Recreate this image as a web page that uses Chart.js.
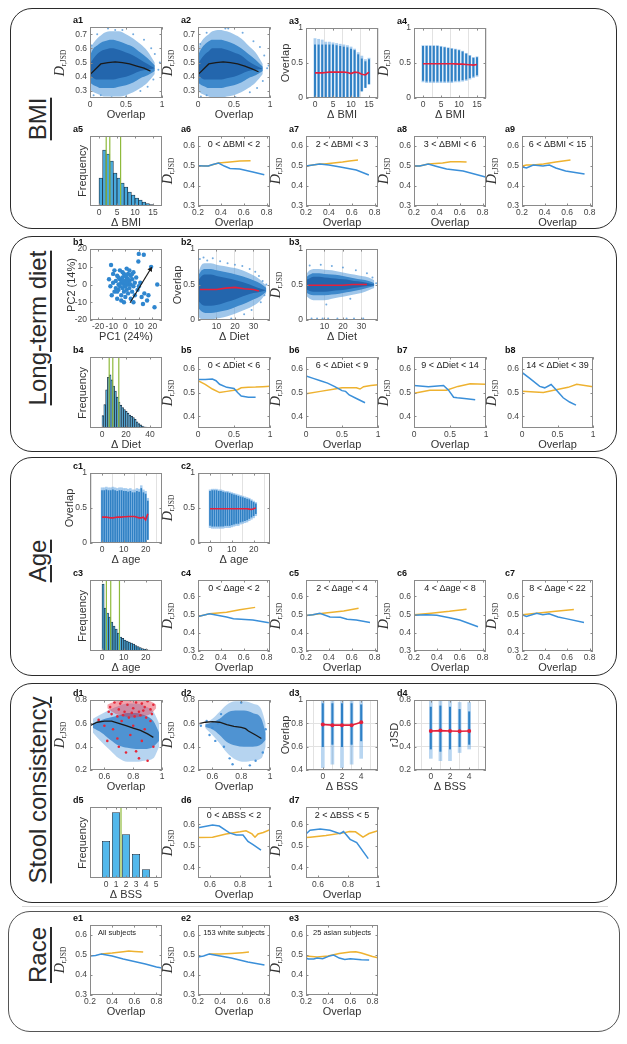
<!DOCTYPE html>
<html><head><meta charset="utf-8">
<script src="https://cdn.jsdelivr.net/npm/chart.js@4.4.1/dist/chart.umd.min.js"></script>
<style>
body{margin:0;background:#fff;width:627px;height:1044px;overflow:hidden;position:relative;font-family:"Liberation Sans",Arial,sans-serif;}
.sec{position:absolute;border:1.8px solid #2b2b2b;border-radius:22px;box-sizing:border-box;}
.stitle{position:absolute;transform:translate(-50%,-50%) rotate(-90deg);font-size:24px;color:#2a2a2a;white-space:nowrap;text-decoration:underline;text-decoration-thickness:1.5px;text-underline-offset:4px;}
.plab{position:absolute;font:bold 9px "Liberation Sans",Arial,sans-serif;color:#111;line-height:10px;}
.ytitle{position:absolute;transform:translate(-50%,-50%) rotate(-90deg);white-space:nowrap;color:#333;font-size:11px;line-height:12px;}
.dj{font-family:"Liberation Serif","DejaVu Serif",serif;color:#333;}
.dj i{font-size:14px;}
.dj sub{font-size:7.5px;vertical-align:-2px;}
canvas{position:absolute;}
</style></head><body>
<script>
// ================= DATA =================
// --- BMI: a1 / a2 clouds (Overlap vs D_rJSD), banded density outline
const a1X      = [0,0.05,0.1,0.15,0.2,0.3,0.4,0.5,0.6,0.7,0.8,0.9];
const a1OutLo  = [0.31,0.29,0.28,0.27,0.26,0.26,0.26,0.27,0.29,0.32,0.36,0.42];
const a1OutHi  = [0.6,0.64,0.67,0.69,0.71,0.72,0.72,0.7,0.67,0.63,0.58,0.5];
const a1MidLo  = [0.36,0.34,0.33,0.32,0.32,0.32,0.33,0.34,0.36,0.39,0.41,0.44];
const a1MidHi  = [0.55,0.6,0.62,0.64,0.65,0.66,0.65,0.63,0.61,0.57,0.53,0.48];
const a1CoreLo = [0.41,0.39,0.38,0.38,0.38,0.38,0.39,0.4,0.42,0.44,0.45,0.46];
const a1CoreHi = [0.49,0.53,0.56,0.58,0.59,0.6,0.59,0.57,0.55,0.52,0.49,0.46];
const a1SpkX   = [0.05,0.1,0.25,0.45,0.6,0.75,0.85,0.9,0.95,0.88,0.7,0.5,0.3,0.15,0.02,0.97,0.8,0.35];
const a1SpkY   = [0.27,0.7,0.74,0.73,0.7,0.66,0.6,0.56,0.45,0.38,0.3,0.26,0.255,0.27,0.62,0.5,0.33,0.73];
const a1LineX  = [0.01,0.15,0.25,0.35,0.45,0.55,0.65,0.75,0.84];
const a1LineY  = [0.42,0.49,0.5,0.505,0.5,0.49,0.475,0.46,0.44];
const a2OutLo  = [0.3,0.28,0.27,0.26,0.25,0.25,0.26,0.27,0.29,0.32,0.36,0.42];
const a2OutHi  = [0.6,0.65,0.68,0.7,0.72,0.73,0.72,0.7,0.67,0.62,0.57,0.49];
const a2MidLo  = [0.36,0.34,0.33,0.32,0.32,0.32,0.33,0.34,0.36,0.39,0.41,0.44];
const a2MidHi  = [0.55,0.6,0.63,0.65,0.66,0.66,0.65,0.63,0.6,0.56,0.52,0.47];
const a2CoreLo = [0.41,0.39,0.38,0.38,0.38,0.38,0.39,0.4,0.42,0.44,0.45,0.455];
const a2CoreHi = [0.49,0.53,0.56,0.58,0.6,0.6,0.59,0.57,0.55,0.51,0.48,0.455];
const a2SpkX   = [0.04,0.12,0.22,0.42,0.62,0.77,0.86,0.92,0.96,0.9,0.72,0.52,0.32,0.12,0.03,0.98,0.82,0.38];
const a2SpkY   = [0.26,0.71,0.75,0.74,0.71,0.65,0.61,0.55,0.46,0.37,0.29,0.255,0.25,0.27,0.63,0.48,0.32,0.74];
const a2LineY  = [0.42,0.49,0.5,0.505,0.5,0.49,0.475,0.455,0.435];
// --- a3 / a4 strips per integer ΔBMI
const bmiX   = [0,1,2,3,4,5,6,7,8,9,10,11,12,13,14,15];
const a3Lo   = [0,0,0,0,0,0,0,0,0,0,0,0,0.02,0.1,0.15,0.2];
const a3Hi   = [0.76,0.76,0.76,0.76,0.76,0.76,0.75,0.74,0.73,0.72,0.7,0.68,0.62,0.56,0.52,0.55];
const a3OutHi= [0.85,0.84,0.83,0.8,0.8,0.79,0.78,0.77,0.76,0.75,0.73,0.7,0.65,0.6,0.55,0.57];
const a3Mean = [0.36,0.36,0.36,0.365,0.37,0.37,0.37,0.37,0.37,0.365,0.35,0.37,0.365,0.34,0.33,0.37];
const a4Lo   = [0.25,0.24,0.24,0.24,0.24,0.24,0.24,0.24,0.24,0.25,0.25,0.26,0.27,0.29,0.31,0.33];
const a4Hi   = [0.74,0.74,0.74,0.74,0.74,0.73,0.72,0.71,0.7,0.69,0.68,0.66,0.63,0.6,0.57,0.58];
const a4Mean = [0.49,0.49,0.49,0.49,0.49,0.49,0.49,0.49,0.49,0.488,0.485,0.485,0.48,0.475,0.47,0.48];
// --- a5 histogram ΔBMI
const a5Bins  = [0.5,1.5,2.5,3.5,4.5,5.5,6.5,7.5,8.5,9.5,10.5,11.5,12.5,13.5,14.5];
const a5Freq  = [28,56,52,45,33,28,23,19,14,11,8,6,4,2.5,1.5];
const a5Cuts  = [2,3,6];
// --- a6..a9 lines
const a6BX=[0.2,0.25,0.29,0.33,0.38,0.43,0.48,0.565,0.68,0.78], a6BY=[0.502,0.5,0.5,0.508,0.515,0.5,0.488,0.485,0.47,0.457];
const a6OX=[0.2,0.29,0.38,0.48,0.565,0.66], a6OY=[0.502,0.5,0.515,0.52,0.525,0.527];
const a7BX=[0.2,0.26,0.32,0.4,0.5,0.64,0.75], a7BY=[0.5,0.505,0.51,0.505,0.495,0.48,0.455];
const a7OX=[0.2,0.26,0.32,0.36,0.52,0.58,0.655], a7OY=[0.5,0.505,0.51,0.51,0.52,0.525,0.53];
const a8BX=[0.2,0.25,0.325,0.4,0.485,0.63,0.826], a8BY=[0.5,0.5,0.51,0.498,0.485,0.475,0.445];
const a8OX=[0.2,0.25,0.325,0.45,0.52,0.6,0.66], a8OY=[0.5,0.5,0.51,0.515,0.522,0.522,0.52];
const a9BX=[0.2,0.24,0.3,0.386,0.443,0.5,0.587,0.755], a9BY=[0.495,0.49,0.505,0.5,0.505,0.49,0.475,0.46];
const a9OX=[0.2,0.24,0.3,0.39,0.5,0.63], a9OY=[0.5,0.505,0.505,0.51,0.52,0.53];
// --- b1 PCA scatter
const b1PC1 = [-10.5,-9,-12,-11,-10,-8,-7,-6,-5,-5,-4,-4,-3,-3,-2,-2,-1,-1,-1,0,0,0,1,1,1,2,2,2,3,3,4,4,4,5,5,6,6,7,7,8,9,10,-9,-7,-6,-4,-2,0,2,3,-3,-8,11,12,14,9.9,13.6,9.6,19,23.5,21.5,17,16,13,-1,6,-6,-2,1,-5,5];
const b1PC2 = [11,6,3,-1,-6,-4,2,5,0,-3,8,3,-6,1,4,-2,6,0,-4,2,-1,-7,4,9,-3,0,6,-5,2,-2,5,0,-8,3,-4,7,-1,1,-6,4,-3,-1,1,-2,-8,-1,7,5,3,8,-9,8,1,-7,-5,17.3,16.8,13,10,0,-12.8,-6,-9,-11,-10,-10,-4,2,1,4,6];
const b1Arrow = [[3.5,-10.3],[18.5,8.6]];
// --- b2 / b3 clouds vs ΔDiet
const dietX    = [0.5,2,4,7,10,14,18,22,26,30,34,37];
const b2OutLo  = [0.04,0.01,0.01,0.01,0.02,0.04,0.07,0.11,0.15,0.2,0.28,0.38];
const b2OutHi  = [0.7,0.78,0.8,0.8,0.78,0.76,0.74,0.72,0.68,0.63,0.56,0.48];
const b2MidLo  = [0.16,0.12,0.1,0.1,0.11,0.13,0.16,0.2,0.24,0.29,0.34,0.4];
const b2MidHi  = [0.64,0.7,0.72,0.72,0.7,0.68,0.66,0.63,0.6,0.56,0.51,0.45];
const b2CoreLo = [0.26,0.22,0.2,0.2,0.21,0.24,0.27,0.31,0.35,0.38,0.4,0.42];
const b2CoreHi = [0.57,0.62,0.64,0.64,0.62,0.6,0.58,0.55,0.52,0.48,0.44,0.42];
const b3OutLo  = [0.33,0.3,0.28,0.28,0.28,0.3,0.32,0.34,0.36,0.38,0.42,0.45];
const b3OutHi  = [0.66,0.7,0.72,0.72,0.71,0.7,0.68,0.66,0.64,0.62,0.6,0.56];
const b3MidLo  = [0.38,0.36,0.35,0.35,0.35,0.36,0.37,0.39,0.41,0.43,0.46,0.48];
const b3MidHi  = [0.61,0.64,0.66,0.66,0.65,0.64,0.63,0.61,0.59,0.57,0.55,0.52];
const b3CoreLo = [0.43,0.41,0.4,0.4,0.4,0.41,0.42,0.43,0.45,0.47,0.48,0.49];
const b3CoreHi = [0.57,0.59,0.61,0.61,0.6,0.59,0.58,0.57,0.55,0.54,0.52,0.5];
const dietMeanX= [1,5,10,15,20,25,30,33];
const b2Mean   = [0.43,0.43,0.43,0.45,0.46,0.44,0.43,0.41];
const b3Mean   = [0.49,0.49,0.49,0.49,0.49,0.5,0.5,0.5];
const b2SpkX   = [1,3,5,8,12,16,20,24,28,31,33,35,37,36,34,29,25,18];
const b2SpkY   = [0.86,0.88,0.84,0.87,0.83,0.8,0.78,0.76,0.72,0.68,0.62,0.55,0.5,0.35,0.25,0.14,0.08,0.02];
const b3SpkX   = [3,6,9,12,17,22,26,31,2,8,14,20,27,33,36,38,24,11];
const b3SpkY   = [0.02,0.02,0.02,0.02,0.02,0.02,0.02,0.02,0.77,0.78,0.76,0.74,0.7,0.66,0.6,0.52,0.3,0.22];
// --- b4 histogram ΔDiet
const b4Bins = [0.75,2.25,3.75,5.25,6.75,8.25,9.75,11.25,12.75,14.25,15.75,17.25,18.75,20.25,21.75,23.25,24.75,26.25,27.75,29.25,30.75,32.25,33.75,35.25,36.75,38.25];
const b4Freq = [0.2,0.38,0.62,0.82,0.86,0.78,0.68,0.6,0.5,0.42,0.37,0.33,0.3,0.27,0.24,0.21,0.19,0.17,0.14,0.1,0.07,0.05,0.03,0.02,0.015,0.01];
const b4Cuts = [6,9,14];
// --- b5..b8 lines
const b5BX=[0,0.1,0.2,0.25,0.3,0.4,0.5,0.55,0.6,0.7,0.8], b5BY=[0.555,0.555,0.557,0.55,0.535,0.522,0.517,0.5,0.485,0.48,0.48];
const b5OX=[0,0.1,0.2,0.3,0.4,0.5,0.55,0.6,0.7,0.8,0.9,1], b5OY=[0.55,0.535,0.515,0.5,0.505,0.51,0.512,0.52,0.522,0.523,0.525,0.527];
const b6BX=[0,0.1,0.2,0.3,0.4,0.5,0.55,0.6,0.7,0.82], b6BY=[0.57,0.56,0.55,0.54,0.525,0.508,0.505,0.49,0.475,0.457];
const b6OX=[0,0.2,0.4,0.5,0.6,0.7,0.75,0.8,0.9,1], b6OY=[0.495,0.505,0.515,0.52,0.52,0.52,0.515,0.525,0.53,0.533];
const b7BX=[0,0.2,0.41,0.48,0.55,0.6,0.7,0.85], b7BY=[0.53,0.525,0.53,0.51,0.48,0.478,0.475,0.47];
const b7OX=[0,0.22,0.45,0.61,0.78,0.99], b7OY=[0.497,0.51,0.51,0.526,0.537,0.535];
const b8BX=[0,0.11,0.25,0.32,0.41,0.48,0.58,0.67,0.76], b8BY=[0.585,0.56,0.526,0.52,0.534,0.512,0.478,0.46,0.447];
const b8OX=[0,0.3,0.48,0.65,0.77,1], b8OY=[0.505,0.5,0.512,0.522,0.535,0.525];
// --- Age: c1/c2 strips
const ageX   = [0,1,2,3,4,5,6,7,8,9,10,11,12,13,14,15,16,17,18,19,20,21];
const c1Lo   = [0,0,0,0,0,0,0,0,0,0,0,0,0,0,0,0,0,0,0,0,0.02,0.05];
const c1Hi   = [0.75,0.75,0.76,0.75,0.75,0.76,0.75,0.74,0.75,0.75,0.74,0.74,0.73,0.74,0.72,0.72,0.74,0.73,0.78,0.72,0.7,0.6];
const c1Mean = [0.37,0.37,0.37,0.365,0.36,0.36,0.365,0.37,0.37,0.37,0.375,0.375,0.38,0.38,0.38,0.38,0.37,0.36,0.36,0.37,0.33,0.42];
const c2Lo   = [0.25,0.24,0.24,0.24,0.24,0.24,0.24,0.25,0.25,0.25,0.26,0.27,0.28,0.28,0.3,0.31,0.32,0.33,0.35,0.37,0.39,0.42];
const c2Hi   = [0.74,0.75,0.75,0.75,0.74,0.74,0.73,0.72,0.72,0.71,0.7,0.69,0.68,0.67,0.66,0.65,0.64,0.63,0.62,0.6,0.58,0.56];
const c2Mean = [0.49,0.49,0.49,0.49,0.49,0.49,0.49,0.49,0.49,0.49,0.49,0.49,0.49,0.49,0.49,0.49,0.49,0.49,0.485,0.48,0.49,0.5];
// --- c3 histogram Δage
const c3Bins = [0.5,1.5,2.5,3.5,4.5,5.5,6.5,7.5,8.5,9.5,10.5,11.5,12.5,13.5,14.5,15.5,16.5,17.5,18.5,19.5,20.5,21.5];
const c3Freq = [67,43,38,34,29,25,22,18,14,12.7,11,10,9,8,7,5.5,4.5,3.5,2.5,2,1.5,1];
const c3Cuts = [2,4,8];
// --- c4..c7 lines
const c4BX=[0.2,0.3,0.45,0.51,0.68,0.82], c4BY=[0.49,0.505,0.487,0.478,0.47,0.455];
const c4OX=[0.2,0.3,0.45,0.565,0.7], c4OY=[0.49,0.505,0.513,0.527,0.54];
const c5BX=[0.2,0.26,0.32,0.41,0.5,0.56,0.64,0.76], c5BY=[0.495,0.5,0.508,0.487,0.485,0.475,0.47,0.457];
const c5OX=[0.2,0.26,0.35,0.53,0.66], c5OY=[0.495,0.5,0.508,0.52,0.535];
const c6BX=[0.2,0.31,0.4,0.51,0.6,0.76], c6BY=[0.497,0.5,0.497,0.483,0.47,0.433];
const c6OX=[0.2,0.35,0.51,0.66], c6OY=[0.5,0.508,0.518,0.53];
const c7BX=[0.2,0.24,0.33,0.385,0.44,0.52,0.59,0.75], c7BY=[0.5,0.49,0.508,0.5,0.505,0.487,0.478,0.457];
const c7OX=[0.2,0.33,0.5,0.66], c7OY=[0.5,0.508,0.518,0.528];
// --- Stool: d1/d2 scatter clouds
const stoolX   = [0.52,0.58,0.64,0.7,0.76,0.82,0.88,0.94,0.98];
const d1OutLo  = [0.52,0.44,0.37,0.3,0.27,0.27,0.28,0.3,0.4];
const d1OutHi  = [0.64,0.68,0.72,0.75,0.77,0.77,0.75,0.7,0.6];
const d1CoreLo = [0.56,0.52,0.46,0.41,0.39,0.38,0.38,0.4,0.45];
const d1CoreHi = [0.6,0.63,0.65,0.67,0.69,0.69,0.67,0.62,0.52];
const d1RedX   = [0.62,0.68,0.74,0.8,0.86,0.92,0.96];
const d1RedLo  = [0.73,0.68,0.66,0.65,0.66,0.68,0.73];
const d1RedHi  = [0.76,0.79,0.8,0.8,0.8,0.79,0.76];
const d1RedPtsX= [0.56,0.6,0.62,0.66,0.7,0.72,0.75,0.78,0.8,0.84,0.86,0.88,0.9,0.92,0.94,0.69,0.82,0.63,
                  0.64,0.67,0.7,0.72,0.74,0.76,0.78,0.8,0.82,0.84,0.86,0.88,0.9,0.92,0.94,0.65,0.69,0.73,0.77,0.81,0.85,0.89,0.93,0.71,0.79,0.87];
const d1RedPtsY= [0.63,0.58,0.45,0.55,0.4,0.62,0.35,0.5,0.58,0.3,0.45,0.55,0.28,0.62,0.4,0.47,0.36,0.7,
                  0.74,0.78,0.72,0.79,0.7,0.76,0.8,0.73,0.78,0.7,0.77,0.74,0.79,0.72,0.76,0.68,0.66,0.67,0.65,0.66,0.67,0.65,0.68,0.77,0.69,0.71];
const d1LineX  = [0.5,0.55,0.6,0.65,0.7,0.75,0.8,0.85,0.9,0.94];
const d1LineY  = [0.58,0.61,0.62,0.62,0.6,0.58,0.56,0.54,0.51,0.48];
const stoolX2  = [0.55,0.6,0.65,0.7,0.76,0.82,0.88,0.94,0.97];
const d2OutLo  = [0.56,0.5,0.43,0.35,0.29,0.27,0.28,0.3,0.4];
const d2OutHi  = [0.6,0.64,0.7,0.76,0.79,0.79,0.77,0.72,0.6];
const d2CoreLo = [0.57,0.55,0.5,0.44,0.41,0.4,0.4,0.42,0.46];
const d2CoreHi = [0.59,0.61,0.64,0.69,0.71,0.71,0.69,0.64,0.52];
const d2SpkX   = [0.52,0.56,0.6,0.62,0.66,0.68,0.72,0.58,0.64,0.74,0.9,0.95,0.97,0.86,0.8,0.71];
const d2SpkY   = [0.58,0.62,0.56,0.45,0.68,0.4,0.3,0.5,0.6,0.25,0.28,0.35,0.55,0.24,0.78,0.8];
const d2LineX  = [0.5,0.55,0.6,0.65,0.7,0.75,0.8,0.83,0.85,0.9,0.94];
const d2LineY  = [0.595,0.61,0.615,0.61,0.59,0.575,0.565,0.555,0.535,0.5,0.47];
// --- d3/d4 strips per ΔBSS
const bssX   = [0,1,2,3,4];
const d3Lo   = [0.42,0.45,0.42,0.45,0.5];
const d3Hi   = [1,1,1,1,1];
const d3InLo = [0.6,0.62,0.6,0.62,0.65];
const d3InHi = [0.97,0.97,0.97,0.97,0.96];
const d3Mean = [0.79,0.785,0.785,0.785,0.81];
const d4Lo   = [0.3,0.28,0.28,0.35,0.38];
const d4Hi   = [0.8,0.8,0.8,0.78,0.78];
const d4InLo = [0.38,0.36,0.38,0.4,0.42];
const d4InHi = [0.74,0.75,0.74,0.72,0.7];
const d4Mean = [0.535,0.538,0.535,0.532,0.535];
// --- d5 histogram ΔBSS
const d5Freq = [37,65.7,43.7,24,8.7];
const d5Cuts = [1.5];
// --- d6/d7 lines
const d6BX=[0.52,0.617,0.662,0.73,0.775,0.82,0.853,0.887,0.94], d6BY=[0.584,0.597,0.592,0.56,0.55,0.55,0.52,0.505,0.48];
const d6OX=[0.52,0.617,0.707,0.8,0.84,0.88,0.9,0.92,0.955,1], d6OY=[0.538,0.54,0.555,0.565,0.57,0.555,0.54,0.555,0.562,0.575];
const d7BX=[0.52,0.547,0.614,0.68,0.747,0.77,0.814,0.858,0.935], d7BY=[0.555,0.572,0.578,0.572,0.556,0.566,0.53,0.515,0.44];
const d7OX=[0.52,0.547,0.653,0.77,0.81,0.85,0.9,0.94,1], d7OY=[0.538,0.54,0.548,0.56,0.566,0.565,0.54,0.557,0.57];
// --- Race e1..e3
const e1BX=[0.2,0.25,0.3,0.4,0.5,0.6,0.7,0.8,0.85], e1BY=[0.495,0.498,0.505,0.495,0.48,0.468,0.455,0.44,0.435];
const e1OX=[0.3,0.4,0.5,0.55,0.6,0.68], e1OY=[0.505,0.51,0.517,0.52,0.518,0.515];
const e2BX=[0.2,0.25,0.3,0.35,0.5,0.65,0.8], e2BY=[0.49,0.495,0.505,0.5,0.485,0.465,0.45];
const e2OX=[0.3,0.4,0.5,0.6,0.66], e2OY=[0.505,0.505,0.508,0.512,0.515];
const e3BX=[0.2,0.22,0.27,0.3,0.35,0.42,0.45,0.5,0.55,0.6,0.7,0.77], e3BY=[0.485,0.48,0.48,0.485,0.482,0.497,0.5,0.485,0.478,0.482,0.477,0.475];
const e3OX=[0.2,0.3,0.4,0.5,0.6,0.65,0.7,0.8,0.85], e3OY=[0.495,0.49,0.495,0.508,0.515,0.517,0.51,0.493,0.487];
// --- tick label sets
const tOv01=[0,0.5,1], tOv28=[0.2,0.4,0.6,0.8], tD37=[0.3,0.4,0.5,0.6,0.7], tD36=[0.3,0.4,0.5,0.6], tD46=[0.4,0.5,0.6];
const t0051=[0,0.5,1], tBMI=[0,5,10,15], tPC=[-20,-10,0,10,20], tDiet=[10,20,30], tDietH=[0,20,40];
const tAge=[0,10,20], tOv61=[0.6,0.8,1], tR28=[0.2,0.4,0.6,0.8], tR41=[0.4,0.6,0.8,1], tBSS=[0,2,4], tBSSH=[0,1,2,3,4,5];

// ================= RENDERING =================
Chart.defaults.font.family='"Liberation Sans", Arial, sans-serif';
Chart.defaults.animation=false;
Chart.defaults.responsive=false;
Chart.defaults.maintainAspectRatio=false;
Chart.defaults.devicePixelRatio=1;
Chart.defaults.plugins.legend.display=false;
Chart.defaults.plugins.tooltip.enabled=false;

const BLUE='#3a8fd9', ORANGE='#eeb230', RED='#e4203c', BLACK='#1a1a1a';
const C_OUT='rgba(95,160,220,0.6)', C_MID='#3d88cb', C_CORE='#2366ad', C_SPK='rgba(80,150,215,0.8)';
const STRIP_IN='#2f80c4', STRIP_OUT='rgba(110,172,228,0.6)';
const PL=40, PR=12, PT=8, PB=24;
const fmt=v=>String(Math.round(v*1000)/1000);

const mbox={id:'mbox',
  afterDatasetsDraw(ch,args,opts){
    const ctx=ch.ctx,a=ch.chartArea;
    ctx.save();
    ctx.strokeStyle='#8a8a8a';ctx.lineWidth=1;
    ctx.strokeRect(Math.round(a.left)+0.5,Math.round(a.top)+0.5,Math.round(a.right-a.left)-1,Math.round(a.bottom-a.top)-1);
    const L=2.5;
    ctx.beginPath();
    ch.scales.x.ticks.forEach(t=>{const p=Math.round(ch.scales.x.getPixelForValue(t.value))+0.5;
      ctx.moveTo(p,a.bottom);ctx.lineTo(p,a.bottom-L);ctx.moveTo(p,a.top);ctx.lineTo(p,a.top+L);});
    if(ch.scales.y.options.ticks.display) ch.scales.y.ticks.forEach(t=>{const p=Math.round(ch.scales.y.getPixelForValue(t.value))+0.5;
      ctx.moveTo(a.left,p);ctx.lineTo(a.left+L,p);ctx.moveTo(a.right,p);ctx.lineTo(a.right-L,p);});
    ctx.stroke();
    if(opts.text){
      ctx.fillStyle='#222';ctx.font=(opts.size||9)+'px "Liberation Sans", Arial, sans-serif';
      ctx.textAlign='center';ctx.textBaseline='middle';
      ctx.fillText(opts.text,(a.left+a.right)/2+(opts.dx||0),a.top+8);
    }
    ctx.restore();
  }};

function pts(xs,ys){return xs.map((x,i)=>({x,y:ys[i]}));}
function lineDS(xs,ys,color,w){return {type:'line',data:pts(xs,ys),borderColor:color,borderWidth:w||1.5,pointRadius:0,fill:false,tension:0,order:0};}
function band(xs,lo,hi,color,order){return [
  {type:'line',data:pts(xs,hi),fill:'+1',backgroundColor:color,borderColor:'transparent',borderWidth:0,pointRadius:0,cubicInterpolationMode:'monotone',order},
  {type:'line',data:pts(xs,lo),fill:false,borderColor:'transparent',borderWidth:0,pointRadius:0,cubicInterpolationMode:'monotone',order}];}
function stripDS(xs,lo,hi,color,th,order){return {type:'bar',data:xs.map((x,i)=>({x,y:[lo[i],hi[i]]})),backgroundColor:color,barThickness:th,grouped:false,order};}
function histDS(xs,ys,color,pct){return {type:'bar',data:pts(xs,ys),backgroundColor:color||'#4aaee0',borderColor:'#1d3245',borderWidth:0.8,barPercentage:pct||1,categoryPercentage:1,grouped:false,order:2};}
function cutDS(xv,ymax){return {type:'line',data:[{x:xv,y:0},{x:xv,y:ymax}],borderColor:'#8fba3c',borderWidth:1.2,pointRadius:0,order:0};}
function dotsDS(xs,ys,color,r,order){return {type:'line',showLine:false,data:pts(xs,ys),pointRadius:r,pointBackgroundColor:color,pointBorderWidth:0,borderColor:'transparent',order:order==null?1:order};}
function meanDS(xs,ys,marker){return {type:'line',data:pts(xs,ys),borderColor:RED,borderWidth:1.6,pointRadius:marker?2:0,pointBackgroundColor:RED,pointBorderWidth:0,order:0};}

function addDiv(cls,html,x,y){const d=document.createElement('div');d.className=cls;d.innerHTML=html;d.style.left=x+'px';d.style.top=y+'px';document.body.appendChild(d);return d;}
const DJSD='<span class="dj"><i>D</i><sub>r,JSD</sub></span>';

function panel(o){
  const [l,t,w,h]=o.box;
  const c=document.createElement('canvas');
  c.width=w+PL+PR;c.height=h+PT+PB;
  c.style.left=(l-PL)+'px';c.style.top=(t-PT)+'px';
  document.body.appendChild(c);
  const tf={size:8.5};
  new Chart(c,{type:'line',data:{datasets:o.ds},options:{
    layout:{padding:{left:0,right:PR,top:PT,bottom:0}},
    scales:{
      x:{type:'linear',position:'bottom',min:o.xr[0],max:o.xr[1],
        afterBuildTicks:s=>{s.ticks=o.xt.map(v=>({value:v}));},
        afterFit:s=>{s.height=PB;},
        grid:{display:!!o.gx,color:'#e2e2e2',drawTicks:false},
        border:{display:false},
        ticks:{font:tf,color:'#444',padding:2,maxRotation:0,autoSkip:false,callback:v=>fmt(v)},
        title:{display:true,text:o.xTitle,font:{size:11},color:'#333',padding:0}},
      y:{type:'linear',position:'left',min:o.yr[0],max:o.yr[1],
        afterBuildTicks:s=>{s.ticks=(o.yt||[]).map(v=>({value:v}));},
        afterFit:s=>{s.width=PL;},
        grid:{display:!!o.gy,color:'#e2e2e2',drawTicks:false},
        border:{display:false},
        ticks:{display:!!o.yt,font:tf,color:'#444',padding:3,autoSkip:false,callback:v=>fmt(v)}}},
    plugins:{mbox:{text:o.inset,size:o.insetSize,dx:o.insetDx}}
  },plugins:[mbox]});
  if(o.label) addDiv('plab',o.label,l-17,t-12);
  if(o.yTitle){
    const off={D:28,Overlap:21,Frequency:8,PC:19,rJSD:20}[o.yKind||o.yTitle]||24;
    const html=o.yTitle==='D'?DJSD:o.yTitle;
    addDiv('ytitle',html,l-off,t+h/2);
  }
}
function cloud(xs,coreLo,coreHi,midLo,midHi,outLo,outHi){
  return [...band(xs,coreLo,coreHi,C_CORE,1),...band(xs,midLo,midHi,C_MID,2),...band(xs,outLo,outHi,C_OUT,3)];
}

// ---- section frames
[[10,8,607,221],[10,236,607,216],[10,457,607,219],[10,683,607,220]].forEach(b=>{
  const d=addDiv('sec','',b[0],b[1]);d.style.width=b[2]+'px';d.style.height=b[3]+'px';});
{const d=addDiv('sec','',8,911);d.style.width='612px';d.style.height='121px';d.style.border='1.2px solid #555';}
{const d=addDiv('','',22,906);Object.assign(d.style,{position:'absolute',width:'586px',height:'1px',background:'#d8d8d8'});}
addDiv('stitle','BMI',38,119);
addDiv('stitle','Long-term diet',38,328);
addDiv('stitle','Age',38,561);
addDiv('stitle','Stool consistency',38,790);
addDiv('stitle','Race',38,955);

// ---- BMI row 1
panel({box:[90,27,72,71],label:'a1',xr:[0,1],yr:[0.25,0.75],xt:tOv01,yt:tD37,xTitle:'Overlap',yTitle:'D',
  ds:[lineDS(a1LineX,a1LineY,BLACK,1.3),dotsDS(a1SpkX,a1SpkY,C_SPK,1,1),...cloud(a1X,a1CoreLo,a1CoreHi,a1MidLo,a1MidHi,a1OutLo,a1OutHi)]});
panel({box:[198,27,72,71],label:'a2',xr:[0,1],yr:[0.25,0.75],xt:tOv01,yt:tD37,xTitle:'Overlap',yTitle:'D',
  ds:[lineDS(a1LineX,a2LineY,BLACK,1.3),dotsDS(a2SpkX,a2SpkY,C_SPK,1,1),...cloud(a1X,a2CoreLo,a2CoreHi,a2MidLo,a2MidHi,a2OutLo,a2OutHi)]});
panel({box:[306,28,72,70],label:'a3',xr:[0,15],yr:[0,1],xt:tBMI,yt:t0051,xTitle:'Δ BMI',yTitle:'Overlap',gx:true,
  ds:[meanDS(bmiX,a3Mean),stripDS(bmiX,a3Lo,a3Hi,STRIP_IN,1.3,1),stripDS(bmiX,a3Lo,a3OutHi,STRIP_OUT,2.2,2)]});
panel({box:[414,28,72,70],label:'a4',xr:[0,15],yr:[0,1],xt:tBMI,yt:t0051,xTitle:'Δ BMI',yTitle:'D',gx:true,
  ds:[meanDS(bmiX,a4Mean),stripDS(bmiX,a4Lo,a4Hi,STRIP_IN,1.3,1),stripDS(bmiX,a4Lo.map(v=>v-0.02),a4Hi.map(v=>v+0.01),STRIP_OUT,2.2,2)]});
// ---- BMI row 2
panel({box:[90,136,72,70],label:'a5',xr:[0,15],yr:[0,70],xt:tBMI,xTitle:'Δ BMI',yTitle:'Frequency',
  ds:[...a5Cuts.map(v=>cutDS(v,70)),histDS(a5Bins,a5Freq,'#49a9dc')]});
const lp=(box,label,inset,BX,BY,OX,OY,xr,yr,xt,yt,extra)=>panel(Object.assign({box,label,inset,xr,yr,xt,yt,xTitle:'Overlap',yTitle:'D',
  ds:[lineDS(BX,BY,BLUE,1.5),Object.assign(lineDS(OX,OY,ORANGE,1.5),{order:1})]},extra||{}));
lp([198,136,72,70],'a6','0 < ΔBMI < 2',a6BX,a6BY,a6OX,a6OY,[0.2,0.83],[0.3,0.65],tOv28,tD36);
lp([306,136,72,70],'a7','2 < ΔBMI < 3',a7BX,a7BY,a7OX,a7OY,[0.2,0.83],[0.3,0.65],tOv28,tD36);
lp([414,136,72,70],'a8','3 < ΔBMI < 6',a8BX,a8BY,a8OX,a8OY,[0.2,0.83],[0.3,0.65],tOv28,tD36);
lp([522,136,71,70],'a9','6 < ΔBMI < 15',a9BX,a9BY,a9OX,a9OY,[0.2,0.83],[0.3,0.65],tOv28,tD36);
// ---- Diet row 1
panel({box:[90,249,72,71],label:'b1',xr:[-26,27],yr:[-20,20],xt:tPC,yt:tPC,xTitle:'PC1 (24%)',yTitle:'PC2 (14%)',yKind:'PC',
  ds:[{type:'line',data:pts(b1Arrow.map(p=>p[0]),b1Arrow.map(p=>p[1])),borderColor:BLACK,borderWidth:1.2,pointRadius:[0,3],pointStyle:'triangle',pointRotation:31,pointBackgroundColor:BLACK,pointBorderWidth:0,order:0},
      dotsDS(b1PC1,b1PC2,'#2f86cf',2.2,1)]});
panel({box:[198,249,72,71],label:'b2',xr:[0,39],yr:[0,1],xt:tDiet,yt:t0051,xTitle:'Δ Diet',yTitle:'Overlap',gx:true,
  ds:[meanDS(dietMeanX,b2Mean),dotsDS(b2SpkX,b2SpkY,C_SPK,1,1),...cloud(dietX,b2CoreLo,b2CoreHi,b2MidLo,b2MidHi,b2OutLo,b2OutHi)]});
panel({box:[306,249,72,71],label:'b3',xr:[0,39],yr:[0,1],xt:tDiet,yt:t0051,xTitle:'Δ Diet',yTitle:'D',gx:true,
  ds:[meanDS(dietMeanX,b3Mean),dotsDS(b3SpkX,b3SpkY,C_SPK,1,1),...cloud(dietX,b3CoreLo,b3CoreHi,b3MidLo,b3MidHi,b3OutLo,b3OutHi)]});
// ---- Diet row 2
panel({box:[90,357,72,71],label:'b4',xr:[0,40],yr:[0,1.15],xt:tDietH,xTitle:'Δ Diet',yTitle:'Frequency',
  ds:[...b4Cuts.map(v=>cutDS(v,1.15)),histDS(b4Bins,b4Freq,'#49a9dc')]});
lp([198,357,72,71],'b5','0 < ΔDiet < 6',b5BX,b5BY,b5OX,b5OY,[0,1],[0.35,0.65],tOv01,tD46);
lp([306,357,72,71],'b6','6 < ΔDiet < 9',b6BX,b6BY,b6OX,b6OY,[0,1],[0.35,0.65],tOv01,tD46);
lp([414,357,72,71],'b7','9 < ΔDiet < 14',b7BX,b7BY,b7OX,b7OY,[0,1],[0.35,0.65],tOv01,tD46);
lp([522,357,71,71],'b8','14 < ΔDiet < 39',b8BX,b8BY,b8OX,b8OY,[0,1],[0.35,0.65],tOv01,tD46);
// ---- Age row 1
panel({box:[90,473,72,70],label:'c1',xr:[0,22],yr:[0,1],xt:tAge,yt:t0051,xTitle:'Δ age',yTitle:'Overlap',gx:true,
  ds:[meanDS(ageX,c1Mean),stripDS(ageX,c1Lo,c1Hi,STRIP_IN,1.0,1),stripDS(ageX,c1Lo,c1Hi.map(v=>v+0.04),STRIP_OUT,1.8,2)]});
panel({box:[198,473,72,70],label:'c2',xr:[0,22],yr:[0,1],xt:tAge,yt:t0051,xTitle:'Δ age',yTitle:'D',gx:true,
  ds:[meanDS(ageX,c2Mean),stripDS(ageX,c2Lo,c2Hi,STRIP_IN,1.0,1),stripDS(ageX,c2Lo.map(v=>v-0.03),c2Hi.map(v=>v+0.02),STRIP_OUT,1.8,2)]});
// ---- Age row 2
panel({box:[90,580,72,71],label:'c3',xr:[0,22],yr:[0,71],xt:tAge,xTitle:'Δ age',yTitle:'Frequency',
  ds:[...c3Cuts.map(v=>cutDS(v,71)),histDS(c3Bins,c3Freq,'#49a9dc')]});
lp([198,580,72,71],'c4','0 < Δage < 2',c4BX,c4BY,c4OX,c4OY,[0.2,0.83],[0.3,0.69],tOv28,tD36);
lp([306,580,72,71],'c5','2 < Δage < 4',c5BX,c5BY,c5OX,c5OY,[0.2,0.83],[0.3,0.69],tOv28,tD36);
lp([414,580,72,71],'c6','4 < Δage < 8',c6BX,c6BY,c6OX,c6OY,[0.2,0.83],[0.3,0.69],tOv28,tD36);
lp([522,580,71,71],'c7','8 < Δage < 22',c7BX,c7BY,c7OX,c7OY,[0.2,0.83],[0.3,0.69],tOv28,tD36);
// ---- Stool row 1
panel({box:[90,700,72,70],label:'d1',xr:[0.5,1],yr:[0.2,0.8],xt:tOv61,yt:tR28,xTitle:'Overlap',yTitle:'D',
  ds:[lineDS(d1LineX,d1LineY,BLACK,1.3),
      dotsDS(d1RedPtsX,d1RedPtsY,'#e4283a',1.3,1),
      {type:'line',data:pts(d1RedX,d1RedHi),fill:'+1',backgroundColor:'rgba(228,50,70,0.45)',borderColor:'transparent',borderWidth:0,pointRadius:0,cubicInterpolationMode:'monotone',order:2},
      {type:'line',data:pts(d1RedX,d1RedLo),fill:false,borderColor:'transparent',borderWidth:0,pointRadius:0,cubicInterpolationMode:'monotone',order:2},
      ...band(stoolX,d1CoreLo,d1CoreHi,'rgba(45,125,200,0.75)',3),...band(stoolX,d1OutLo,d1OutHi,'rgba(110,170,225,0.5)',4)]});
panel({box:[198,700,72,70],label:'d2',xr:[0.5,1],yr:[0.2,0.8],xt:tOv61,yt:tR28,xTitle:'Overlap',yTitle:'D',
  ds:[lineDS(d2LineX,d2LineY,BLACK,1.3),dotsDS(d2SpkX,d2SpkY,'rgba(60,140,215,0.9)',1.2,1),
      ...band(stoolX2,d2CoreLo,d2CoreHi,'rgba(45,125,200,0.75)',2),...band(stoolX2,d2OutLo,d2OutHi,'rgba(110,170,225,0.5)',3)]});
panel({box:[306,700,72,70],label:'d3',xr:[-0.5,4.5],yr:[0.4,1],xt:tBSS,yt:tR41,xTitle:'Δ BSS',yTitle:'Overlap',gx:true,gy:true,
  ds:[meanDS(bssX,d3Mean,true),stripDS(bssX,d3InLo,d3InHi,'#2f80c6',1.4,1),stripDS(bssX,d3Lo,d3Hi,'rgba(100,165,225,0.45)',3,2)]});
panel({box:[414,700,72,70],label:'d4',xr:[-0.5,4.5],yr:[0.2,0.8],xt:tBSS,yt:tR28,xTitle:'Δ BSS',yTitle:'rJSD',gx:true,gy:true,
  ds:[meanDS(bssX,d4Mean,true),stripDS(bssX,d4InLo,d4InHi,'#2f80c6',1.4,1),stripDS(bssX,d4Lo,d4Hi,'rgba(100,165,225,0.45)',3,2)]});
// ---- Stool row 2
panel({box:[90,807,72,71],label:'d5',xr:[-1,5],yr:[0,71],xt:tBSSH,xTitle:'Δ BSS',yTitle:'Frequency',
  ds:[...d5Cuts.map(v=>cutDS(v,71)),histDS(bssX,d5Freq,'#52b8ec',0.8)]});
lp([198,807,72,71],'d6','0 < ΔBSS < 2',d6BX,d6BY,d6OX,d6OY,[0.52,1],[0.35,0.68],tOv61,tD46);
lp([306,807,72,71],'d7','2 < ΔBSS < 5',d7BX,d7BY,d7OX,d7OY,[0.52,1],[0.35,0.68],tOv61,tD46);
// ---- Race
lp([90,925,72,70],'e1','All subjects',e1BX,e1BY,e1OX,e1OY,[0.2,0.85],[0.3,0.65],tOv28,tD36,{insetSize:7.5,insetDx:-9});
lp([198,925,72,70],'e2','153 white subjects',e2BX,e2BY,e2OX,e2OY,[0.2,0.85],[0.3,0.65],tOv28,tD36,{insetSize:7.5});
lp([306,925,72,70],'e3','25 asian subjects',e3BX,e3BY,e3OX,e3OY,[0.2,0.85],[0.3,0.65],tOv28,tD36,{insetSize:7.5});
</script>
</body></html>
